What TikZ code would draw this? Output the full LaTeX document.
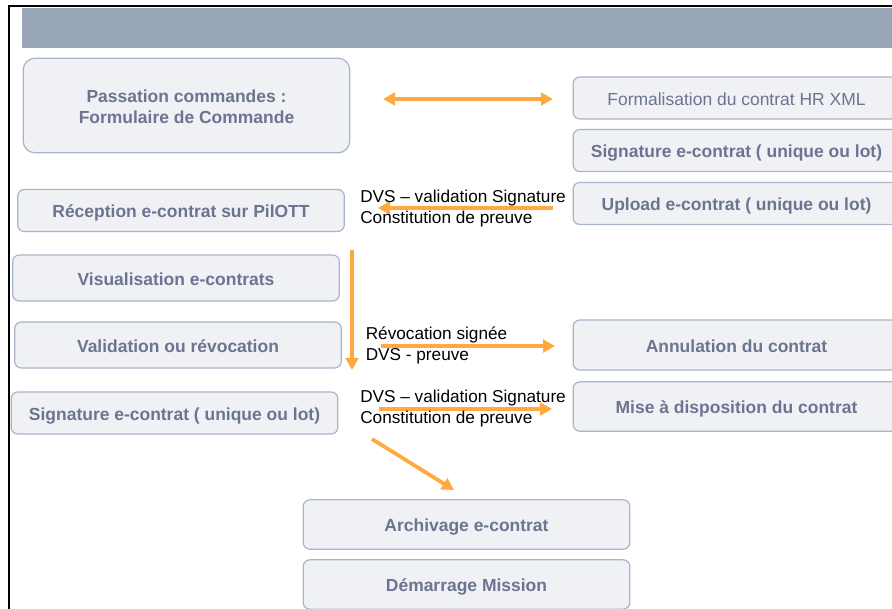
\documentclass[tikz,border=0pt]{standalone}
\usepackage{fontspec}
\setmainfont{Liberation Sans}
\usetikzlibrary{arrows.meta}
\definecolor{band}{HTML}{98A6B8}
\definecolor{boxfill}{HTML}{EFF1F5}
\definecolor{boxline}{HTML}{A9B5C8}
\definecolor{boxtext}{HTML}{6B7490}
\definecolor{flowc}{HTML}{FFA940}
\begin{document}
\begin{tikzpicture}[x=0.75pt, y=-0.75pt,
   stage/.style={draw=boxline, line width=0.9pt, fill=boxfill, rounded corners=5pt,
      text=boxtext, font=\fontsize{13.1}{15.75}\selectfont\bfseries, align=center,
      minimum width=245pt, minimum height=31.5pt, inner sep=0pt,
      execute at begin node={\rule[-0.19em]{0pt}{1.21em}}},
   flow/.style={draw=flowc, line width=2.8pt, -{Triangle[width=9.5pt,length=9pt]}},
   note/.style={anchor=west, align=left, inner sep=0pt,
      font=\fontsize{12.9}{15.5}\selectfont}]

\clip (0,0) rectangle (892,609);
\fill[white] (0,0) rectangle (892,609);
\fill[band] (22,8) rectangle (892,48);
\draw[line width=1.5pt] (9,609) -- (9,6) -- (892,6);

% left column
\node[stage, minimum height=71pt, rounded corners=9pt,
      text height=28pt, text depth=0.7pt] (passation) at (186.5,105.5)
    {Passation commandes :\\ Formulaire de Commande};
\node[stage] (reception) at (181,210.5) {Réception e-contrat sur PilOTT};
\node[stage, minimum height=34.5pt] (visu) at (176,278) {Visualisation e-contrats};
\node[stage, minimum height=34.5pt] (validation) at (178,345) {Validation ou révocation};
\node[stage] (signleft) at (174.5,413) {Signature e-contrat ( unique ou lot)};

% right column
\node[stage, font=\fontsize{13.1}{15.75}\selectfont] (formalisation) at (736.5,98)
    {Formalisation du contrat HR XML};
\node[stage] (signright) at (736.5,150.5) {Signature e-contrat ( unique ou lot)};
\node[stage] (upload) at (736.5,203.5) {Upload e-contrat ( unique ou lot)};
\node[stage, minimum height=37.5pt] (annulation) at (736.5,345) {Annulation du contrat};
\node[stage, minimum height=37pt] (misedispo) at (736.5,406.5) {Mise à disposition du contrat};

% bottom
\node[stage, minimum height=37pt] (archivage) at (466.5,524.5) {Archivage e-contrat};
\node[stage, minimum height=37pt] (demarrage) at (466.5,584.5) {Démarrage Mission};

% free ends of the flows
\coordinate (orderL) at (383,99);   \coordinate (orderR) at (553,99);
\coordinate (uploadS) at (553,208); \coordinate (uploadE) at (378,208);
\coordinate (downS) at (352,250);   \coordinate (downE) at (352,370);
\coordinate (revokeS) at (381,346); \coordinate (revokeE) at (555,346);
\coordinate (signS) at (379,409);   \coordinate (signE) at (552,409);
\coordinate (archS) at (372,439);   \coordinate (archE) at (454,490);

\draw[flow, {Triangle[width=9.5pt,length=9pt]}-{Triangle[width=9.5pt,length=9pt]}] (orderL) -- (orderR);
\draw[flow] (uploadS) -- (uploadE);
\draw[flow] (downS) -- (downE);
\draw[flow] (revokeS) -- (revokeE);
\draw[flow] (signS) -- (signE);
\draw[flow] (archS) -- (archE);

\node[note] (proofup) at (360,208.7) {DVS – validation Signature\\Constitution de preuve};
\node[note] (proofrev) at (365.5,345.5) {Révocation signée\\DVS - preuve};
\node[note] (proofsign) at (360,408.7) {DVS – validation Signature\\Constitution de preuve};

\end{tikzpicture}
\end{document}
